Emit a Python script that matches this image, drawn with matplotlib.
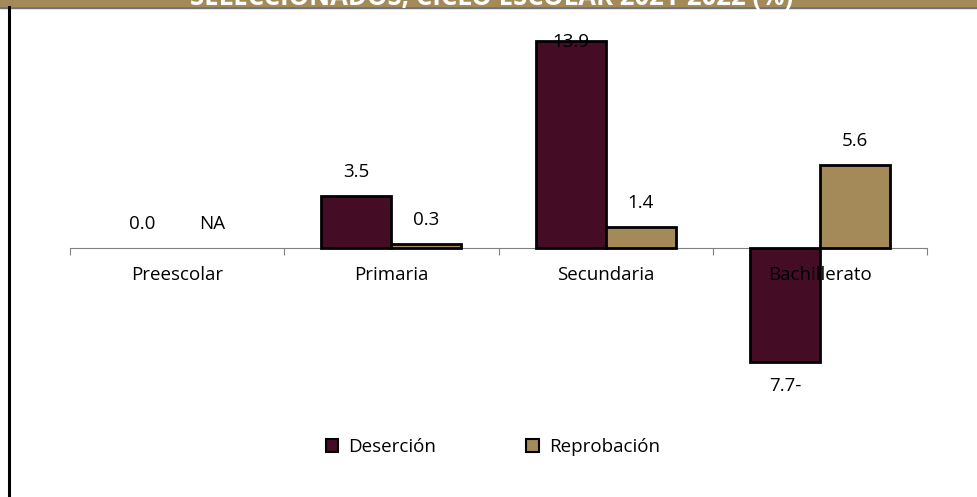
import matplotlib.pyplot as plt
from matplotlib.patches import Rectangle, Patch
from matplotlib.lines import Line2D

niveles = ['Preescolar', 'Primaria', 'Secundaria', 'Bachillerato']
desercion = [0.0, 3.5, 13.9, -7.7]
reprobacion = [None, 0.3, 1.4, 5.6]
series = ['Deserción', 'Reprobación']
titulo = 'SELECCIONADOS, CICLO ESCOLAR 2021-2022 (%)'

c_des = '#440C25'
c_rep = '#A38A58'

plt.rcParams['font.family'] = ['Open Sans', 'DejaVu Sans']

fig = plt.figure(figsize=(9.77, 4.97), dpi=100)
W, H = 977, 497
fs = 13.5

# franja del titulo (cortada arriba)
fig.add_artist(Rectangle((0, 1 - 8 / H), 1, 8 / H, transform=fig.transFigure,
                         color='#6F7275', zorder=0))
fig.add_artist(Rectangle((0, 1 - 6 / H), 1, 6 / H, transform=fig.transFigure,
                         color=c_rep, zorder=1))
fig.text(492 / W, 1 - 5 / H, titulo, color='white', fontsize=18.5, fontweight='bold',
         ha='center', va='baseline', zorder=2)
fig.add_artist(Line2D([8.5 / W, 8.5 / W], [0, 1 - 7 / H], transform=fig.transFigure,
                      color='black', lw=2.2))

# area de grafico
ax = fig.add_axes([70 / W, (H - 420) / H, 857 / W, 400 / H])
x = range(len(niveles))
ancho = 0.327
r_vals = [v if v is not None else 0 for v in reprobacion]
b1 = ax.bar([i - ancho / 2 for i in x], desercion, ancho, color=c_des,
            edgecolor='black', linewidth=2, zorder=2)
b2 = ax.bar([i + ancho / 2 for i in x], r_vals, ancho, color=c_rep,
            edgecolor='black', linewidth=2, zorder=2)
b1[0].set_visible(False)
b2[0].set_visible(False)

ymin, ymax = -11.57, 15.34
ax.set_ylim(ymin, ymax)
ax.set_xlim(-0.5, 3.5)

def etiqueta(v):
    if v is None:
        return 'NA'
    if v < 0:
        return f'{abs(v):.1f}-'
    return f'{v:.1f}'

desp = 1.6  # separacion en unidades de datos
for i in x:
    for v, off in [(desercion[i], -ancho / 2), (reprobacion[i], ancho / 2)]:
        val = 0 if v is None else v
        if val >= 0:
            y = min(val + desp, ymax - 1.5)
        else:
            y = val - desp
        ax.text(i + off, y, etiqueta(v), ha='center', va='center',
                fontsize=fs, zorder=4)

for s in ['top', 'right', 'left']:
    ax.spines[s].set_visible(False)
ax.spines['bottom'].set_position(('data', 0))
ax.spines['bottom'].set_color('#808080')
ax.spines['bottom'].set_zorder(1)
ax.xaxis.set_zorder(3)
ax.set_yticks([])
ax.set_xticks([-0.5, 0.5, 1.5, 2.5, 3.5])
ax.set_xticklabels([])
ax.tick_params(axis='x', which='major', direction='out', length=5, color='#808080')
ax.set_xticks(list(x), minor=True)
ax.set_xticklabels(niveles, minor=True, fontsize=fs)
ax.tick_params(axis='x', which='minor', length=0, pad=13)

handles = [Patch(facecolor=c_des, edgecolor='black', linewidth=1.5),
           Patch(facecolor=c_rep, edgecolor='black', linewidth=1.5)]
fig.legend(handles, series, loc='center', bbox_to_anchor=(493 / W, (H - 447) / H), ncol=2,
           frameon=False, fontsize=fs, handlelength=0.65, handleheight=0.65,
           columnspacing=4.8, handletextpad=0.55)

plt.savefig('out.png', dpi=100)
